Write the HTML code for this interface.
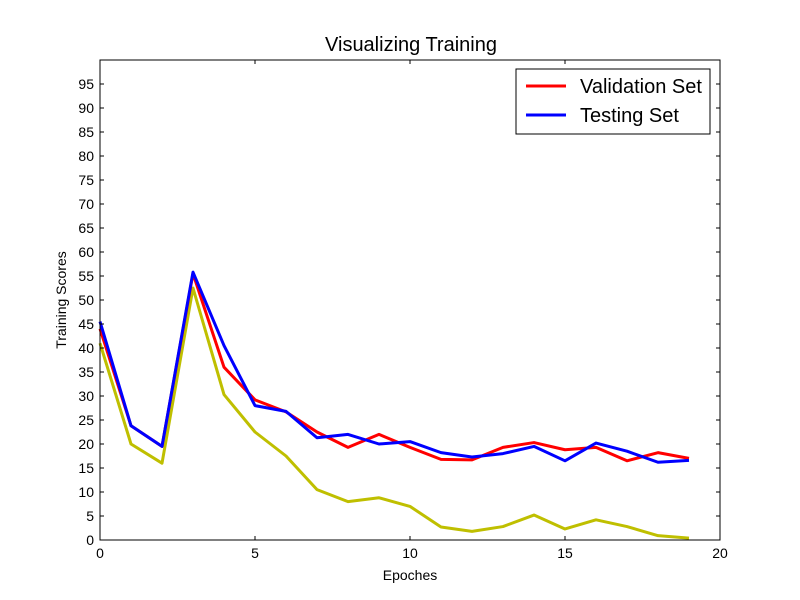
<!DOCTYPE html>
<html><head><meta charset="utf-8"><style>
body{margin:0;background:#fff;}
svg{display:block;font-family:"Liberation Sans",sans-serif;}
</style></head><body>
<svg id="chart" width="800" height="600">
<rect width="800" height="600" fill="#fff"/>
<g id="plot"></g>
</svg>
<script>
const epochs=[0,1,2,3,4,5,6,7,8,9,10,11,12,13,14,15,16,17,18,19];
const validation=[44,23.8,19.5,55.5,36,29.2,26.7,22.5,19.3,22,19.3,16.8,16.7,19.3,20.3,18.8,19.3,16.5,18.2,17];
const testing=[45.5,23.8,19.5,55.8,40.5,28,26.8,21.3,22,20,20.5,18.2,17.3,18,19.5,16.5,20.2,18.5,16.2,16.6];
const training=[41,20,16,52.5,30.3,22.5,17.5,10.5,8,8.8,7,2.7,1.8,2.8,5.2,2.3,4.2,2.8,0.9,0.4];
const xTicks=[0,5,10,15,20];
const yTicks=[0,5,10,15,20,25,30,35,40,45,50,55,60,65,70,75,80,85,90,95];
const L=100,R=720,T=60,B=540;
const xs=v=>L+(v-0)/20*(R-L);
const ys=v=>B-(v-0)/100*(B-T);
const NS="http://www.w3.org/2000/svg";
const g=document.getElementById('plot');
function mk(tag,attrs){const e=document.createElementNS(NS,tag);for(const k in attrs)e.setAttribute(k,attrs[k]);g.appendChild(e);return e;}
function series(data,color,name){
  const p=mk('polyline',{points:data.map((v,i)=>xs(epochs[i])+','+ys(v)).join(' '),fill:'none',stroke:color,'stroke-width':3,'stroke-linejoin':'round'});
  
  
}
series(training,'#bfbf00','training-line');
series(validation,'#ff0000','validation-line');
series(testing,'#0000ff','testing-line');
xTicks.forEach(v=>{
  const x=xs(v);
  const a=mk('line',{x1:x,x2:x,y1:B,y2:B-4,stroke:'#000'});
  
  mk('line',{x1:x,x2:x,y1:T,y2:T+4,stroke:'#000'});
  const t=mk('text',{x:x,y:B+18,'text-anchor':'middle','font-size':14});
  t.textContent=v;
  
});
yTicks.forEach(v=>{
  const y=ys(v);
  const a=mk('line',{x1:L,x2:L+4,y1:y,y2:y,stroke:'#000'});
  
  mk('line',{x1:R,x2:R-4,y1:y,y2:y,stroke:'#000'});
  const t=mk('text',{x:L-6,y:y+5,'text-anchor':'end','font-size':14});
  t.textContent=v;
  
});
const fr=mk('rect',{x:L,y:T,width:R-L,height:B-T,fill:'none',stroke:'#000','stroke-width':1});

const ti=mk('text',{x:411,y:51,'text-anchor':'middle','font-size':20});ti.textContent='Visualizing Training';

const xl=mk('text',{x:410,y:580,'text-anchor':'middle','font-size':14});xl.textContent='Epoches';

const yl=mk('text',{x:0,y:0,'text-anchor':'middle','font-size':14,transform:'translate(66,300) rotate(-90)'});yl.textContent='Training Scores';

const lg=mk('rect',{x:516,y:69,width:194,height:65,fill:'#fff',stroke:'#000'});

[['Validation Set','#ff0000',86],['Testing Set','#0000ff',115]].forEach(([n,c,y])=>{
  const l=mk('line',{x1:526,x2:566,y1:y,y2:y,stroke:c,'stroke-width':3});
  
  const t=mk('text',{x:580,y:y+7,'font-size':20});t.textContent=n;
  
});
</script>
</body></html>
